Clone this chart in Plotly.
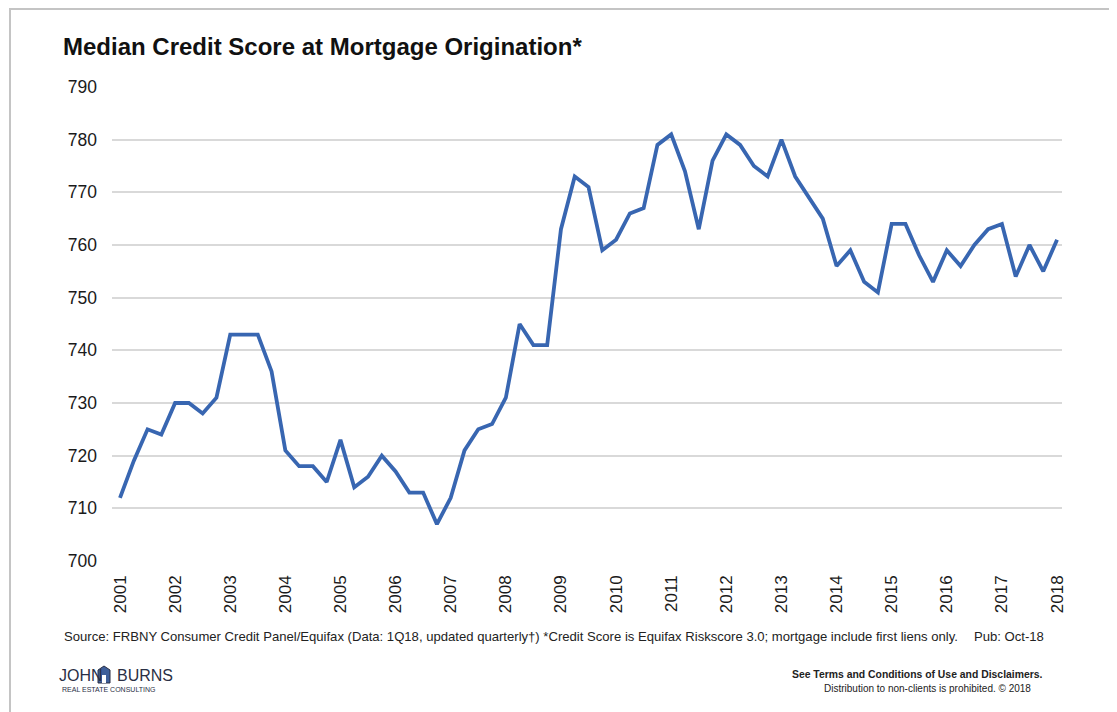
import plotly.graph_objects as go

years = list(range(2001, 2019))
quarter_labels = [f"{y}Q{q}" for y in range(2001, 2018) for q in range(1, 5)] + ["2018Q1"]
median_score = [
    712, 719, 725, 724,   # 2001
    730, 730, 728, 731,   # 2002
    743, 743, 743, 736,   # 2003
    721, 718, 718, 715,   # 2004
    723, 714, 716, 720,   # 2005
    717, 713, 713, 707,   # 2006
    712, 721, 725, 726,   # 2007
    731, 745, 741, 741,   # 2008
    763, 773, 771, 759,   # 2009
    761, 766, 767, 779,   # 2010
    781, 774, 763, 776,   # 2011
    781, 779, 775, 773,   # 2012
    780, 773, 769, 765,   # 2013
    756, 759, 753, 751,   # 2014
    764, 764, 758, 753,   # 2015
    759, 756, 760, 763,   # 2016
    764, 754, 760, 755,   # 2017
    761,                  # 2018
]
y_ticks = [700, 710, 720, 730, 740, 750, 760, 770, 780, 790]

title_text = "Median Credit Score at Mortgage Origination*"
source_text = ("Source: FRBNY Consumer Credit Panel/Equifax (Data: 1Q18, updated quarterly\u2020) "
               "*Credit Score is Equifax Riskscore 3.0; mortgage include first liens only.")
pub_text = "Pub: Oct-18"
disclaimer_1 = "See Terms and Conditions of Use and Disclaimers."
disclaimer_2 = "Distribution to non-clients is prohibited. \u00a9 2018"

OFF = 8  # page body margin
W, H = 1117 - OFF, 712 - OFF
# plot area in page pixels: x 112..1062, y 87..561
ML, MT = 112 - OFF, 87 - OFF
MR, MB = W - (1062 - OFF), H - (561 - OFF)
PW, PH = W - ML - MR, H - MT - MB


def fx(p):
    return (p - OFF - ML) / PW


def fy(p):
    return (H - MB - (p - OFF)) / PH


FONT = "Arial, 'Liberation Sans', sans-serif"
x_idx = list(range(len(median_score)))

fig = go.Figure()
fig.add_trace(go.Scatter(
    x=x_idx, y=median_score, mode="lines",
    line=dict(color="#3866b1", width=3.8),
    hovertext=quarter_labels, showlegend=False,
))

fig.update_layout(
    width=W, height=H,
    margin=dict(l=ML, r=MR, t=MT, b=MB),
    paper_bgcolor="white", plot_bgcolor="white",
    font=dict(family=FONT, color="#222222"),
    xaxis=dict(
        range=[-0.58, 68.36],
        tickmode="array",
        tickvals=[(y - 2001) * 4 for y in years],
        ticktext=[str(y) for y in years],
        tickangle=-90,
        tickfont=dict(size=17, color="#1a1a1a"),
        showgrid=False, zeroline=False, showline=False,
        ticks="", ticklabelstandoff=10,
    ),
    yaxis=dict(
        range=[700, 790],
        tickmode="array", tickvals=y_ticks,
        tickfont=dict(size=17.5, color="#1a1a1a"),
        showgrid=True, gridcolor="#d9d9d9", gridwidth=2,
        zeroline=False, showline=False, ticks="",
        ticklabelstandoff=14,
    ),
)

# outer frame
fig.add_shape(type="rect", xref="paper", yref="paper",
              x0=fx(10), x1=fx(1110), y0=fy(716), y1=fy(9),
              line=dict(color="#c4c4c4", width=2), fillcolor="rgba(0,0,0,0)", layer="below")

annotations = [
    dict(text=f"<b>{title_text}</b>", x=fx(61), y=fy(47), xanchor="left", yanchor="middle",
         font=dict(size=24, color="#111111", family=FONT)),
    dict(text=source_text, x=fx(62), y=fy(636), xanchor="left", yanchor="middle",
         font=dict(size=13.1, color="#222222", family=FONT)),
    dict(text=pub_text, x=fx(1046), y=fy(636), xanchor="right", yanchor="middle",
         font=dict(size=13.1, color="#222222", family=FONT)),
    dict(text=f"<b>{disclaimer_1}</b>", x=fx(1045), y=fy(674), xanchor="right", yanchor="middle",
         font=dict(size=10.4, color="#222222", family=FONT)),
    dict(text=disclaimer_2, x=fx(927), y=fy(688), xanchor="center", yanchor="middle",
         font=dict(size=10, color="#222222", family=FONT)),
    dict(text="JOHN", x=fx(57), y=fy(675), xanchor="left", yanchor="middle",
         font=dict(size=16, color="#2a2f45", family="'Liberation Sans Narrow', Arial, sans-serif")),
    dict(text="BURNS", x=fx(115), y=fy(675), xanchor="left", yanchor="middle",
         font=dict(size=16, color="#2a2f45", family="'Liberation Sans Narrow', Arial, sans-serif")),
    dict(text="REAL ESTATE CONSULTING", x=fx(60), y=fy(689), xanchor="left", yanchor="middle",
         font=dict(size=7, color="#2a2f45", family=FONT)),
]
for a in annotations:
    a.update(xref="paper", yref="paper", showarrow=False)
fig.update_layout(annotations=annotations)

# small logo icon between JOHN and BURNS
fig.add_shape(type="path", xref="paper", yref="paper",
              path=(f"M {fx(98)} {fy(683)} L {fx(98)} {fy(670)} L {fx(104)} {fy(666)} "
                    f"L {fx(110)} {fy(670)} L {fx(110)} {fy(683)} Z"),
              fillcolor="#3f5f9a", line=dict(color="#2a2f45", width=1))
fig.add_shape(type="rect", xref="paper", yref="paper",
              x0=fx(102), x1=fx(106), y0=fy(683), y1=fy(675),
              fillcolor="white", line=dict(width=0))

fig.write_html("out.html")
